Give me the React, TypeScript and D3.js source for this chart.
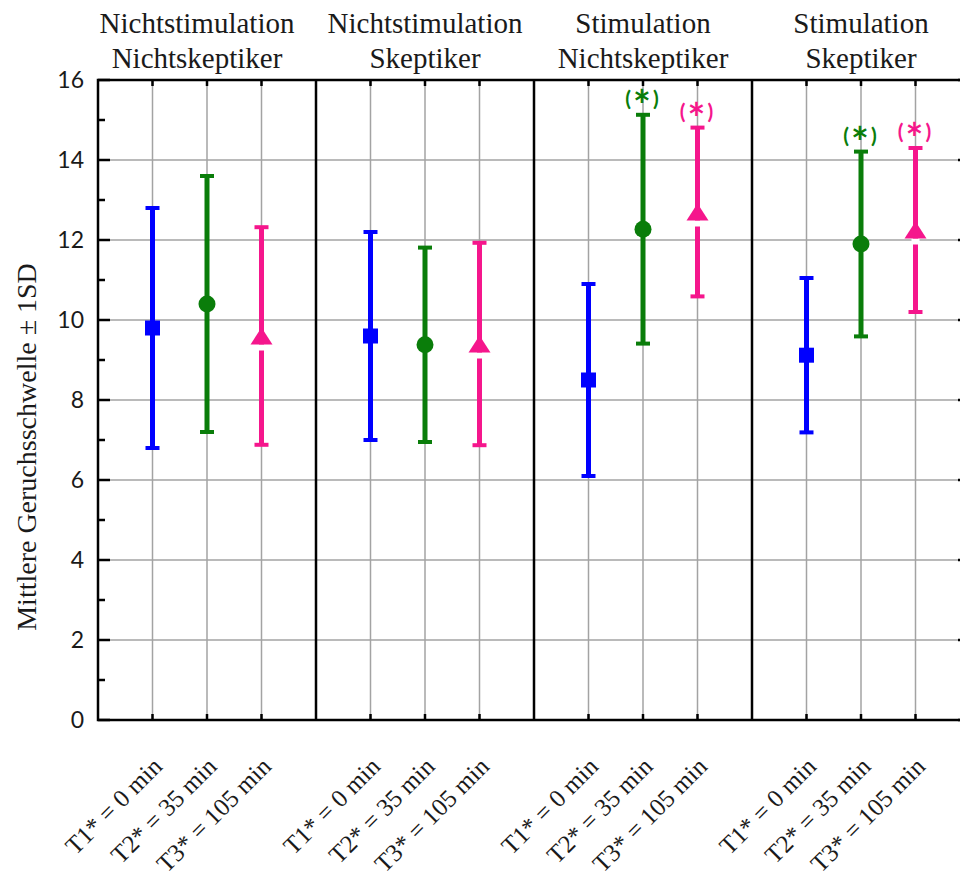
import React from "react";
import * as d3 from "d3";

// ---- data ----
const panelTitleTop = ["Nichtstimulation", "Nichtstimulation", "Stimulation", "Stimulation"];
const panelTitleBottom = ["Nichtskeptiker", "Skeptiker", "Nichtskeptiker", "Skeptiker"];
const timeLabels = ["T1* = 0 min", "T2* = 35 min", "T3* = 105 min"];
const t1Mean = [9.8, 9.6, 8.5, 9.12];
const t1SD = [3.0, 2.6, 2.4, 1.93];
const t2Mean = [10.4, 9.38, 12.27, 11.9];
const t2SD = [3.2, 2.43, 2.86, 2.31];
const t3Mean = [9.6, 9.4, 12.7, 12.25];
const t3SD = [2.72, 2.53, 2.11, 2.05];
// significance marks per series per panel
const t2Sig = [false, false, true, true];
const t3Sig = [false, false, true, true];
const yTicks = [0, 2, 4, 6, 8, 10, 12, 14, 16];
const yMinorTicks = [1, 3, 5, 7, 9, 11, 13, 15];
const yLabel = "Mittlere Geruchsschwelle ± 1SD";

const W = 960;
const H = 884;
const L = 98, R = 970, T = 80, B = 720;

const colors = ["#0000ff", "#0a7d0a", "#f5168c"];

export default function App() {
  const y = d3.scaleLinear().domain([0, 16]).range([B, T]);
  const panelIdx = panelTitleTop.map((_, i) => i);
  const xPanel = d3.scaleBand<number>().domain(panelIdx).range([L, R]).padding(0);
  const xInner = d3.scalePoint<string>().domain(timeLabels).range([0, xPanel.bandwidth()]).padding(1);
  const xPos = (p: number, t: number) => (xPanel(p) as number) + (xInner(timeLabels[t]) as number);

  const series = [
    { mean: t1Mean, sd: t1SD, sig: [false, false, false, false], shape: "square" },
    { mean: t2Mean, sd: t2SD, sig: t2Sig, shape: "circle" },
    { mean: t3Mean, sd: t3SD, sig: t3Sig, shape: "triangle" },
  ];

  const titleOffsets = [-10, 0, 0, 0];
  const serif = "'Liberation Serif', 'Times New Roman', serif";
  const sans = "Lato, 'Open Sans', sans-serif";

  return (
    <svg
      width={W}
      height={H}
      style={{ position: "absolute", left: 0, top: 0, background: "#fff", overflow: "hidden" }}
    >
      <rect x={0} y={0} width={W} height={H} fill="#fff" />
      {/* grid */}
      {yTicks.filter((v) => v > 0 && v < 16).map((v) => (
        <line key={"gy" + v} x1={L} x2={R} y1={y(v)} y2={y(v)} stroke="#a3a3a3" strokeWidth={1.5} />
      ))}
      {panelIdx.map((p) =>
        timeLabels.map((_, t) => (
          <line key={"gx" + p + t} x1={xPos(p, t)} x2={xPos(p, t)} y1={T} y2={B} stroke="#a3a3a3" strokeWidth={1.5} />
        ))
      )}
      {/* top/bottom ticks */}
      {panelIdx.map((p) =>
        timeLabels.map((_, t) => (
          <g key={"tk" + p + t}>
            <line x1={xPos(p, t)} x2={xPos(p, t)} y1={T} y2={T + 6} stroke="#000" strokeWidth={2.5} />
            <line x1={xPos(p, t)} x2={xPos(p, t)} y1={B} y2={B - 6} stroke="#000" strokeWidth={2.5} />
          </g>
        ))
      )}
      {/* left/right ticks */}
      {yTicks.map((v) => (
        <g key={"yt" + v}>
          <line x1={L} x2={L + 12} y1={y(v)} y2={y(v)} stroke="#000" strokeWidth={2.5} />
          <line x1={R} x2={R - 12} y1={y(v)} y2={y(v)} stroke="#000" strokeWidth={2.5} />
          <text x={L - 14} y={y(v)} dy="0.36em" textAnchor="end" fontFamily={sans} fontSize={23} fill="#1a1a1a">
            {v}
          </text>
        </g>
      ))}
      {yMinorTicks.map((v) => (
        <g key={"ym" + v}>
          <line x1={L} x2={L + 7} y1={y(v)} y2={y(v)} stroke="#000" strokeWidth={2.5} />
          <line x1={R} x2={R - 7} y1={y(v)} y2={y(v)} stroke="#000" strokeWidth={2.5} />
        </g>
      ))}
      {/* frame and dividers */}
      <rect x={L} y={T} width={R - L} height={B - T} fill="none" stroke="#000" strokeWidth={2.5} />
      {panelIdx.slice(1).map((p) => (
        <line key={"dv" + p} x1={xPanel(p)} x2={xPanel(p)} y1={T} y2={B} stroke="#000" strokeWidth={2.5} />
      ))}
      {/* panel titles */}
      {panelIdx.map((p) => {
        const cx = (xPanel(p) as number) + xPanel.bandwidth() / 2 + titleOffsets[p];
        return (
          <g key={"tt" + p} fontFamily={serif} fontSize={29} fill="#1a1a1a" textAnchor="middle">
            <text x={cx} y={33}>{panelTitleTop[p]}</text>
            <text x={cx} y={68}>{panelTitleBottom[p]}</text>
          </g>
        );
      })}
      {/* y label */}
      <text
        transform={`translate(36, 447) rotate(-90)`}
        textAnchor="middle"
        fontFamily={serif}
        fontSize={28}
        fill="#1a1a1a"
      >
        {yLabel}
      </text>
      {/* x labels */}
      {panelIdx.map((p) =>
        timeLabels.map((lab, t) => (
          <text
            key={"xl" + p + t}
            transform={`translate(${xPos(p, t) + 11}, 768) rotate(-45)`}
            textAnchor="end"
            fontFamily={serif}
            fontSize={25}
            fill="#1a1a1a"
          >
            {lab}
          </text>
        ))
      )}
      {/* error bars & markers */}
      {series.map((s, si) =>
        panelIdx.map((p) => {
          const cx = xPos(p, si);
          const m = s.mean[p];
          const lo = y(m - s.sd[p]);
          const hi = y(m + s.sd[p]);
          const cy = y(m);
          const c = colors[si];
          let marker: React.ReactNode = null;
          if (s.shape === "square") {
            marker = <rect x={cx - 7.5} y={cy - 7.5} width={15} height={15} fill={c} />;
          } else if (s.shape === "circle") {
            marker = <circle cx={cx} cy={cy} r={8.5} fill={c} />;
          } else {
            const tri = d3.line()([
              [cx, cy - 8.5],
              [cx + 11, cy + 8.5],
              [cx - 11, cy + 8.5],
            ]) + "Z";
            marker = (
              <g>
                <rect x={cx - 4} y={cy + 8.5} width={8} height={6} fill="#fff" />
                <path d={tri} fill={c} />
              </g>
            );
          }
          return (
            <g key={"s" + si + p}>
              <line x1={cx} x2={cx} y1={lo} y2={hi} stroke={c} strokeWidth={5} />
              <line x1={cx - 7} x2={cx + 7} y1={lo} y2={lo} stroke={c} strokeWidth={4} />
              <line x1={cx - 7} x2={cx + 7} y1={hi} y2={hi} stroke={c} strokeWidth={4} />
              {marker}
              {s.sig[p] && (
                <text
                  x={cx}
                  y={hi - 9}
                  textAnchor="middle"
                  fontFamily={sans}
                  fontWeight="bold"
                  fontSize={21}
                  fill={c}
                  letterSpacing={2}
                >
                  (<tspan fontSize={42} dy={15}>*</tspan><tspan dy={-15}>)</tspan>
                </text>
              )}
            </g>
          );
        })
      )}
    </svg>
  );
}
